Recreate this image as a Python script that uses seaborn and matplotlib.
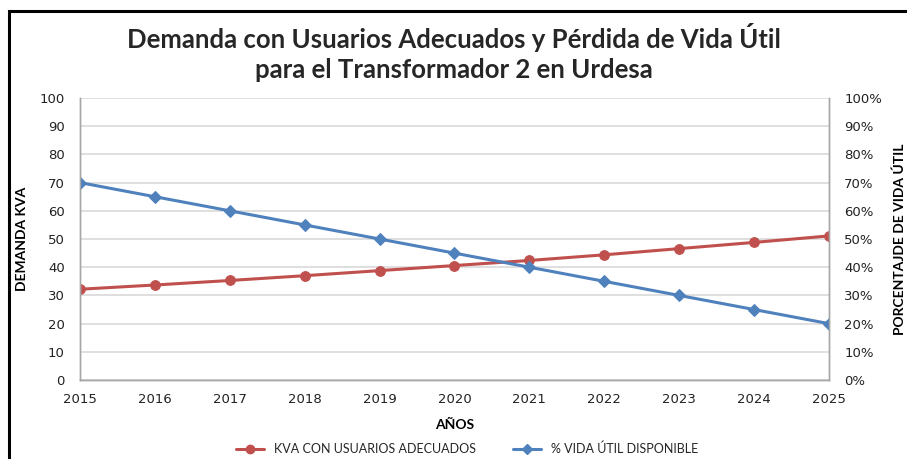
import matplotlib
matplotlib.use('Agg')
import matplotlib.pyplot as plt
import seaborn as sns
import pandas as pd
from matplotlib.ticker import PercentFormatter, MultipleLocator
from matplotlib.patches import Rectangle
from matplotlib.lines import Line2D

# datos
anios = [2015, 2016, 2017, 2018, 2019, 2020, 2021, 2022, 2023, 2024, 2025]
kva = [32.2, 33.7, 35.3, 37.0, 38.8, 40.6, 42.4, 44.4, 46.6, 48.8, 51.1]
vida_util = [0.70, 0.65, 0.60, 0.55, 0.50, 0.45, 0.40, 0.35, 0.30, 0.25, 0.20]

rojo = '#C0504D'
azul = '#4F81BD'

sns.set_style('white')
plt.rcParams['font.family'] = ['DejaVu Sans']

df = pd.DataFrame({'anio': anios, 'kva': kva, 'vida': vida_util})

fig = plt.figure(figsize=(9.07, 4.59), dpi=100)
ax = fig.add_axes([0.0882, 0.172, 0.8258, 0.6145])
ax2 = ax.twinx()

sns.lineplot(data=df, x='anio', y='kva', ax=ax, color=rojo, marker='o',
             markersize=7, linewidth=2.2, markeredgecolor=rojo)
sns.lineplot(data=df, x='anio', y='vida', ax=ax2, color=azul, marker='D',
             markersize=6, linewidth=2.2, markeredgecolor=azul)

ax.set_xlim(2015, 2025)
ax.set_ylim(0, 100)
ax2.set_ylim(0, 1)
ax.set_xticks(anios)
ax.yaxis.set_major_locator(MultipleLocator(10))
ax2.yaxis.set_major_locator(MultipleLocator(0.1))
ax2.yaxis.set_major_formatter(PercentFormatter(1.0, decimals=0))
ax.grid(axis='y', color='#D9D9D9', linewidth=1.2)
ax.set_axisbelow(True)
ax2.grid(False)

for a in (ax, ax2):
    a.spines['top'].set_visible(False)
    for s in ['left', 'right', 'bottom']:
        a.spines[s].set_color('#A6A6A6')
        a.spines[s].set_linewidth(1.0)
    a.tick_params(labelsize=9.5, colors='#222222', length=0, pad=11)
ax.tick_params(axis='x', pad=9)

lab_font = dict(family='Lato', fontweight='bold', fontsize=10, color='black')
ax.set_xlabel('AÑOS', labelpad=10, **lab_font)
ax.set_ylabel('DEMANDA KVA', va='center', **lab_font)
ax.yaxis.set_label_coords(-0.078, 0.5)
ax2.set_ylabel('PORCENTAJDE DE VIDA ÚTIL', va='center', rotation=90, **lab_font)
ax2.yaxis.set_label_coords(1.094, 0.5)

fig.suptitle('Demanda con Usuarios Adecuados y Pérdida de Vida Útil\npara el Transformador 2 en Urdesa',
             x=0.5, y=0.95, family='Lato', fontweight='bold', fontsize=18.5, linespacing=1.3)

handles = [Line2D([], [], color=rojo, marker='o', markersize=6, linewidth=2.2),
           Line2D([], [], color=azul, marker='D', markersize=5, linewidth=2.2)]
fig.legend(handles, ['KVA CON USUARIOS ADECUADOS', '% VIDA ÚTIL DISPONIBLE'],
           loc='center', bbox_to_anchor=(0.515, 0.022), ncol=2, frameon=False,
           prop={'family': 'Lato', 'size': 9}, handlelength=2.2, columnspacing=3)

# marco del grafico
fig.add_artist(Rectangle((9 / 907, -0.2), 1.2, 1.2 - 11 / 459, transform=fig.transFigure,
                         fill=False, edgecolor='black', linewidth=2.2))

fig.savefig('out.png', dpi=100)
